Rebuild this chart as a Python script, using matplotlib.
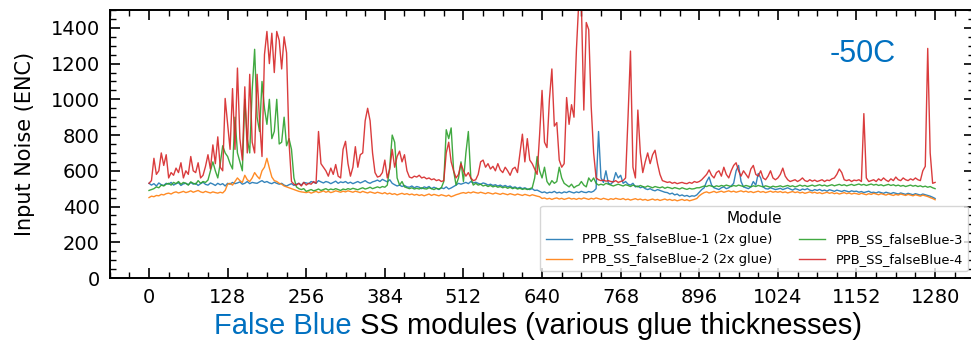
import numpy as np
import matplotlib
matplotlib.use("Agg")
import matplotlib.pyplot as plt
from matplotlib.ticker import MultipleLocator

# Channel index (every 4th strip) and per-module input noise in ENC
step = 4
channels = np.arange(0, 1281, step)

noise_fb1 = [
    530, 520, 528, 515, 532, 522, 518, 530, 525, 535, 520, 528, 533, 518, 527, 530,
    522, 535, 525, 530, 518, 528, 536, 524, 520, 532, 526, 518, 530, 522, 528, 515,
    530, 525, 535, 528, 532, 538, 525, 530, 540, 528, 535, 532, 530, 538, 545, 535,
    540, 532, 528, 536, 530, 525, 530, 520, 515, 522, 528, 518, 525, 530, 520, 535,
    532, 528, 540, 535, 530, 545, 538, 532, 540, 536, 528, 535, 542, 530, 538, 534,
    540, 530, 536, 528, 534, 540, 532, 538, 545, 535, 530, 538, 542, 548, 540, 552,
    545, 538, 550, 530, 522, 515, 520, 512, 518, 510, 508, 515, 505, 512, 508, 500,
    510, 505, 512, 500, 508, 502, 495, 505, 500, 510, 498, 504, 512, 520, 530, 525,
    530, 535, 528, 540, 532, 536, 530, 525, 532, 528, 520, 525, 518, 522, 515, 520,
    512, 518, 510, 515, 505, 510, 502, 508, 500, 505, 498, 495, 500, 490, 492, 485,
    478, 482, 475, 480, 478, 485, 476, 480, 475, 482, 478, 485, 480, 476, 482, 478,
    485, 480, 478, 484, 480, 486, 500, 820, 560, 535, 600, 530, 525, 540, 590, 560,
    575, 530, 540, 525, 520, 530, 510, 515, 505, 510, 500, 495, 500, 492, 488, 495,
    490, 485, 480, 478, 470, 475, 465, 470, 460, 465, 458, 462, 455, 460, 458, 465,
    480, 495, 505, 540, 565, 520, 505, 500, 495, 505, 510, 500, 505, 515, 530, 600,
    630, 540, 510, 505, 500, 510, 540, 520, 585, 560, 510, 500, 498, 505, 500, 495,
    498, 502, 495, 500, 505, 498, 492, 500, 496, 490, 498, 494, 500, 492, 488, 495,
    490, 496, 488, 492, 486, 494, 490, 485, 492, 488, 484, 490, 486, 482, 488, 484,
    486, 480, 484, 478, 482, 486, 478, 480, 476, 482, 478, 474, 480, 476, 472, 478,
    474, 470, 476, 472, 468, 474, 470, 466, 472, 468, 464, 470, 466, 462, 458, 452,
    445,
]

noise_fb2 = [
    450, 458, 455, 462, 460, 468, 465, 472, 475, 470, 478, 482, 476, 480, 485, 478,
    482, 488, 480, 485, 490, 482, 478, 485, 480, 476, 482, 478, 475, 480, 476, 490,
    525, 530, 520, 540, 560, 545, 535, 575, 550, 540, 560, 590, 570, 555, 600, 620,
    670, 615, 565, 545, 540, 530, 525, 515, 510, 505, 500, 495, 490, 485, 482, 480,
    478, 482, 475, 480, 485, 478, 482, 488, 480, 485, 478, 482, 488, 484, 480, 486,
    482, 488, 484, 480, 486, 482, 478, 485, 480, 476, 482, 478, 474, 480, 476, 472,
    478, 470, 475, 468, 472, 465, 470, 474, 468, 472, 466, 470, 464, 468, 462, 466,
    460, 465, 470, 462, 468, 464, 460, 466, 462, 458, 464, 455, 460, 466, 470, 475,
    478, 474, 480, 476, 482, 478, 475, 480, 476, 472, 478, 474, 470, 476, 472, 468,
    474, 470, 466, 472, 468, 464, 470, 466, 462, 468, 464, 460, 466, 462, 458, 455,
    445, 448, 442, 446, 440, 445, 448, 442, 446, 440, 444, 448, 442, 445, 440, 446,
    442, 448, 444, 440, 446, 442, 448, 444, 440, 446, 442, 438, 444, 440, 446, 442,
    440, 445, 438, 442, 436, 440, 444, 438, 442, 436, 440, 434, 438, 442, 436, 440,
    434, 438, 442, 436, 440, 434, 438, 432, 436, 440, 434, 438, 432, 436, 440, 445,
    460, 470, 478, 482, 476, 480, 485, 478, 482, 486, 480, 484, 488, 482, 486, 480,
    484, 488, 482, 486, 480, 484, 478, 482, 486, 480, 484, 478, 482, 486, 480, 484,
    480, 484, 478, 482, 476, 480, 484, 478, 482, 476, 480, 474, 478, 482, 476, 480,
    474, 478, 472, 476, 480, 474, 478, 472, 476, 470, 474, 478, 472, 476, 470, 474,
    472, 468, 474, 470, 466, 472, 468, 474, 470, 466, 472, 468, 464, 470, 466, 462,
    468, 464, 470, 466, 462, 468, 464, 460, 466, 462, 458, 464, 460, 456, 450, 445,
    438,
]

noise_fb3 = [
    490, 495, 500, 510, 505, 520, 515, 525, 530, 520, 535, 528, 540, 525, 535, 530,
    520, 538, 530, 525, 545, 530, 540, 535, 548, 600, 650, 600, 560, 640, 740, 700,
    680, 640, 610, 900, 700, 650, 600, 1000, 780, 700, 1050, 1280, 900, 820, 1100, 950,
    860, 1000, 780, 820, 1000, 750, 760, 900, 740, 780, 720, 560, 510, 500, 495, 500,
    485, 490, 495, 488, 492, 498, 490, 495, 500, 492, 498, 494, 500, 495, 490, 498,
    494, 500, 496, 502, 498, 494, 500, 505, 498, 502, 508, 500, 505, 510, 505, 512,
    508, 520, 620, 800, 760, 560, 520, 540, 510, 505, 500, 505, 498, 502, 498, 505,
    500, 498, 505, 500, 495, 502, 498, 505, 540, 830, 780, 840, 600, 520, 560, 650,
    540, 700, 820, 560, 520, 530, 520, 525, 515, 520, 512, 518, 510, 515, 508, 512,
    505, 510, 502, 508, 500, 505, 498, 502, 496, 500, 495, 500, 505, 560, 680, 600,
    560, 620, 540, 520, 545, 530, 540, 620, 560, 530, 520, 510, 525, 505, 515, 520,
    540, 520, 510, 560, 540, 560, 530, 520, 525, 520, 530, 525, 520, 515, 520, 525,
    520, 515, 522, 518, 512, 520, 515, 510, 518, 512, 508, 515, 510, 505, 512, 508,
    505, 510, 502, 508, 505, 500, 506, 502, 498, 505, 500, 496, 502, 498, 500, 505,
    505, 510, 515, 512, 518, 514, 510, 516, 512, 518, 514, 520, 516, 512, 518, 514,
    520, 516, 512, 518, 514, 510, 516, 512, 518, 514, 510, 516, 512, 508, 514, 510,
    512, 516, 510, 514, 518, 512, 516, 510, 514, 520, 514, 518, 512, 516, 520, 514,
    518, 522, 516, 520, 514, 518, 522, 516, 520, 524, 518, 522, 516, 520, 524, 518,
    522, 526, 520, 524, 518, 522, 526, 520, 524, 518, 522, 516, 520, 524, 518, 522,
    516, 520, 514, 518, 512, 516, 520, 514, 518, 512, 516, 510, 514, 508, 512, 505,
    500,
]

noise_fb4 = [
    530, 545, 670, 580, 600, 700, 630, 690, 560, 590, 575, 615, 590, 645, 560, 600,
    580, 680, 600, 590, 645, 560, 575, 625, 690, 610, 745, 640, 790, 620, 600, 1005,
    860, 720, 1060, 720, 1175, 780, 660, 1070, 700, 1140, 760, 700, 1140, 880, 680, 1250,
    1380, 1200, 1370, 1150, 1380, 1330, 1170, 1350, 1260, 760, 540, 525, 520, 530, 515, 535,
    520, 530, 525, 540, 530, 820, 640, 620, 600, 570, 615, 580, 635, 570, 560, 720,
    765, 640, 570, 620, 735, 620, 690, 700, 880, 950, 880, 700, 590, 565, 570, 590,
    660, 560, 610, 720, 620, 680, 710, 650, 690, 600, 565, 560, 570, 565, 575, 560,
    565, 555, 560, 550, 555, 545, 550, 540, 545, 700, 760, 650, 600, 560, 580, 640,
    600, 570, 590, 560, 545, 550, 580, 650, 660, 620, 640, 610, 625, 600, 640, 605,
    590, 620, 600, 575, 610, 620, 590, 700, 805, 650, 780, 660, 640, 610, 580, 800,
    1050, 760, 730, 1000, 1170, 850, 870, 660, 620, 640, 1010, 860, 970, 900, 1280, 1560,
    1540, 940, 1430, 1390, 960, 700, 560, 550, 545, 548, 542, 545, 540, 538, 545, 535,
    540, 545, 560, 900, 1270, 620, 560, 940, 700, 590, 650, 700, 640, 690, 715, 640,
    580, 545, 540, 535, 538, 530, 535, 528, 532, 535, 530, 528, 535, 530, 540, 535,
    540, 550, 565, 580, 605, 575, 560, 590, 600, 570, 620, 580, 560, 600, 630, 645,
    600, 570, 600, 580, 560, 610, 630, 580, 570, 600, 560, 550, 570, 600, 560, 550,
    560, 580, 615, 570, 550, 540, 545, 550, 540, 548, 560, 545, 540, 550, 542, 548,
    540, 545, 550, 540, 548, 545, 555, 560, 580, 610, 590, 550, 545, 550, 540, 548,
    545, 550, 540, 920, 560, 540, 545, 550, 540, 555, 545, 560, 548, 540, 555, 545,
    565, 550, 545, 560, 550, 545, 555, 548, 560, 550, 545, 600, 625, 1285, 700, 530,
    535,
]

module_names = [
    "PPB_SS_falseBlue-1 (2x glue)",
    "PPB_SS_falseBlue-2 (2x glue)",
    "PPB_SS_falseBlue-3",
    "PPB_SS_falseBlue-4",
]
module_colors = ["#1f77b4", "#ff7f0e", "#2ca02c", "#d62728"]
x_ticks = [0, 128, 256, 384, 512, 640, 768, 896, 1024, 1152, 1280]

W, H = 971, 341
fig = plt.figure(figsize=(W / 100, H / 100), dpi=100)
ax = fig.add_axes([109.7 / W, 63 / H, 864.7 / W, 268 / H])

for vals, name, col in zip([noise_fb1, noise_fb2, noise_fb3, noise_fb4],
                           module_names, module_colors):
    ax.plot(channels, vals, color=col, lw=1.0, alpha=0.9, label=name)

ax.set_xlim(-64, 1344)
ax.set_ylim(0, 1500)
ax.set_xticks(x_ticks)
ax.xaxis.set_minor_locator(MultipleLocator(32))
ax.yaxis.set_major_locator(MultipleLocator(200))
ax.yaxis.set_minor_locator(MultipleLocator(50))
ax.tick_params(which="both", direction="in", top=True, right=True)
ax.tick_params(which="major", length=7, width=1.2, labelsize=14, pad=7)
ax.tick_params(which="minor", length=4, width=1.0)
for sp in ax.spines.values():
    sp.set_linewidth(1.4)

ax.set_ylabel("Input Noise (ENC)", fontsize=15, labelpad=11)

ax.text(1109, 1255, "-50C", color="#0070C0", fontsize=22,
        family="Liberation Sans", va="center", ha="left")

leg = ax.legend(title="Module", ncol=2, loc="lower right", fontsize=9.4,
                title_fontsize=11, labelspacing=0.55)

# two-colour x-axis label
t1 = fig.text(214 / W, 7 / H, "False Blue", color="#0070C0", fontsize=21,
              family="Liberation Sans", va="baseline", ha="left")
ax.annotate(" SS modules (various glue thicknesses)", xy=(1, 0), xycoords=t1,
            va="bottom", ha="left", fontsize=21, family="Liberation Sans",
            color="black", annotation_clip=False)

fig.savefig("out.png", dpi=100)
